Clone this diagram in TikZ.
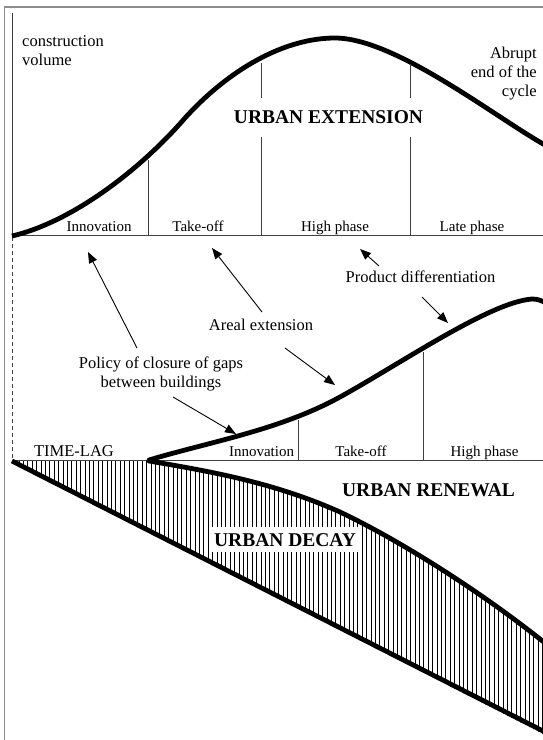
\documentclass[tikz,border=0pt]{standalone}
\usepackage{fontspec}
\setmainfont{Liberation Serif}
\usetikzlibrary{arrows.meta}
\begin{document}
\begin{tikzpicture}[x=1pt,y=-1pt,
  curveline/.style={line width=4.8pt, line join=round},
  thinline/.style={line width=1pt, draw=black!75},
  framel/.style={line width=1.5pt, draw=black!45},
  lbl/.style={inner sep=0pt, anchor=base, font=\fontsize{16.5}{19}\selectfont},
  phase/.style={inner sep=0pt, anchor=base, font=\fontsize{15}{18}\selectfont},
  bigtext/.style={inner sep=0pt, anchor=base, font=\fontsize{19.5}{23}\selectfont\bfseries},
  pointer/.style={line width=0.9pt, -{Triangle[length=11pt,width=8.5pt]}},
  hatchline/.style={line width=0.8pt, draw=black},
]
\useasboundingbox (0,0) rectangle (543,740);
\fill[white] (0,0) rectangle (543,740);

% frame
\draw[framel] (4.5,740) -- (4.5,7) -- (543,7);
% axis
\draw[thinline] (12,13) -- (12,235);
\draw[thinline, dash pattern=on 4pt off 3pt] (12,237) -- (12,460);

% upper baseline
\draw[thinline] (12,235) -- (543,235);

% upper curve
\draw[curveline, line cap=butt] (12,236)
  .. controls (72,222) and (140,170) .. (185,118)
  .. controls (230,68.5) and (285,38) .. (335,38)
  .. controls (395,38) and (495,117) .. (545,145);

% upper dividers
\draw[thinline] (148,160) -- (148,235);
\draw[thinline] (261,63) -- (261,98);
\draw[thinline] (261,137) -- (261,235);
\draw[thinline] (410,64) -- (410,98);
\draw[thinline] (410,137) -- (410,235);

% upper texts
\node[lbl, anchor=base west] (cv1) at (22,46) {construction};
\node[lbl, anchor=base west] (cv2) at (22,65) {volume};
\node[lbl, anchor=base east] (ab1) at (537,58.3) {Abrupt};
\node[lbl, anchor=base east] (ab2) at (537,77.3) {end of the};
\node[lbl, anchor=base east] (ab3) at (537,96) {cycle};
\node[bigtext] (ext) at (328.5,123.3) {URBAN EXTENSION};

\node[phase] (u1) at (99,231.5) {Innovation};
\node[phase] (u2) at (198,231.5) {Take-off};
\node[phase] (u3) at (335,231.5) {High phase};
\node[phase] (u4) at (472,231.5) {Late phase};

% middle labels
\node[lbl] (prod) at (420.5,282) {Product differentiation};
\node[lbl] (areal) at (261,330.7) {Areal extension};
\node[lbl] (pol1) at (161,368.8) {Policy of closure of gaps};
\node[lbl] (pol2) at (161,387.5) {between buildings};

% arrow end points
\coordinate (a1s) at (137,348); \coordinate (a1t) at (88,252);
\coordinate (a2s) at (262,312); \coordinate (a2t) at (212,248);
\coordinate (a3s) at (173,397); \coordinate (a3t) at (236,434);
\coordinate (a4s) at (285,348); \coordinate (a4t) at (335,385);
\coordinate (a5s) at (379,266); \coordinate (a5t) at (360,249);
\coordinate (a6s) at (422,297); \coordinate (a6t) at (448,323);
\draw[pointer] (a1s) -- (a1t);
\draw[pointer] (a2s) -- (a2t);
\draw[pointer] (a3s) -- (a3t);
\draw[pointer] (a4s) -- (a4t);
\draw[pointer] (a5s) -- (a5t);
\draw[pointer] (a6s) -- (a6t);

% hatch (urban decay)
\begin{scope}
\clip (12,461) -- (149,461)
  .. controls (214,472) and (275,483) .. (340,512)
  .. controls (405,543) and (485,595) .. (545,643)
  -- (545,735) -- cycle;
\foreach \x in {14.5,18.9,...,545} \draw[hatchline] (\x,455) -- (\x,740);
\end{scope}

% lower baseline
\draw[thinline] (12,460.5) -- (543,460.5);

% lower dividers
\draw[thinline] (298,420) -- (298,460.5);
\draw[thinline] (423,352) -- (423,460.5);

% decay lower boundary
\draw[curveline, line cap=butt] (12,461) -- (545,732);

% decay upper boundary
\draw[curveline, line cap=round] (149,461)
  .. controls (214,472) and (275,483) .. (340,512)
  .. controls (405,543) and (485,595) .. (545,643);

% lower rising curve
\draw[curveline, line cap=round] (149,460)
  .. controls (209,442) and (280,430) .. (340,397)
  .. controls (400,364) and (490,302) .. (532,299)
  .. controls (538,299) and (541,300.5) .. (546,303);

% lower texts
\node[lbl] (lag) at (74,456) {TIME-LAG};
\node[phase] (l1) at (261.5,456.5) {Innovation};
\node[phase] (l2) at (361,456.5) {Take-off};
\node[phase] (l3) at (484.5,456.5) {High phase};
\node[bigtext] (ren) at (428.5,496.7) {URBAN RENEWAL};
\node[bigtext, fill=white, inner xsep=3pt, inner ysep=6pt] (decay) at (285,546) {URBAN DECAY};
\end{tikzpicture}
\end{document}
